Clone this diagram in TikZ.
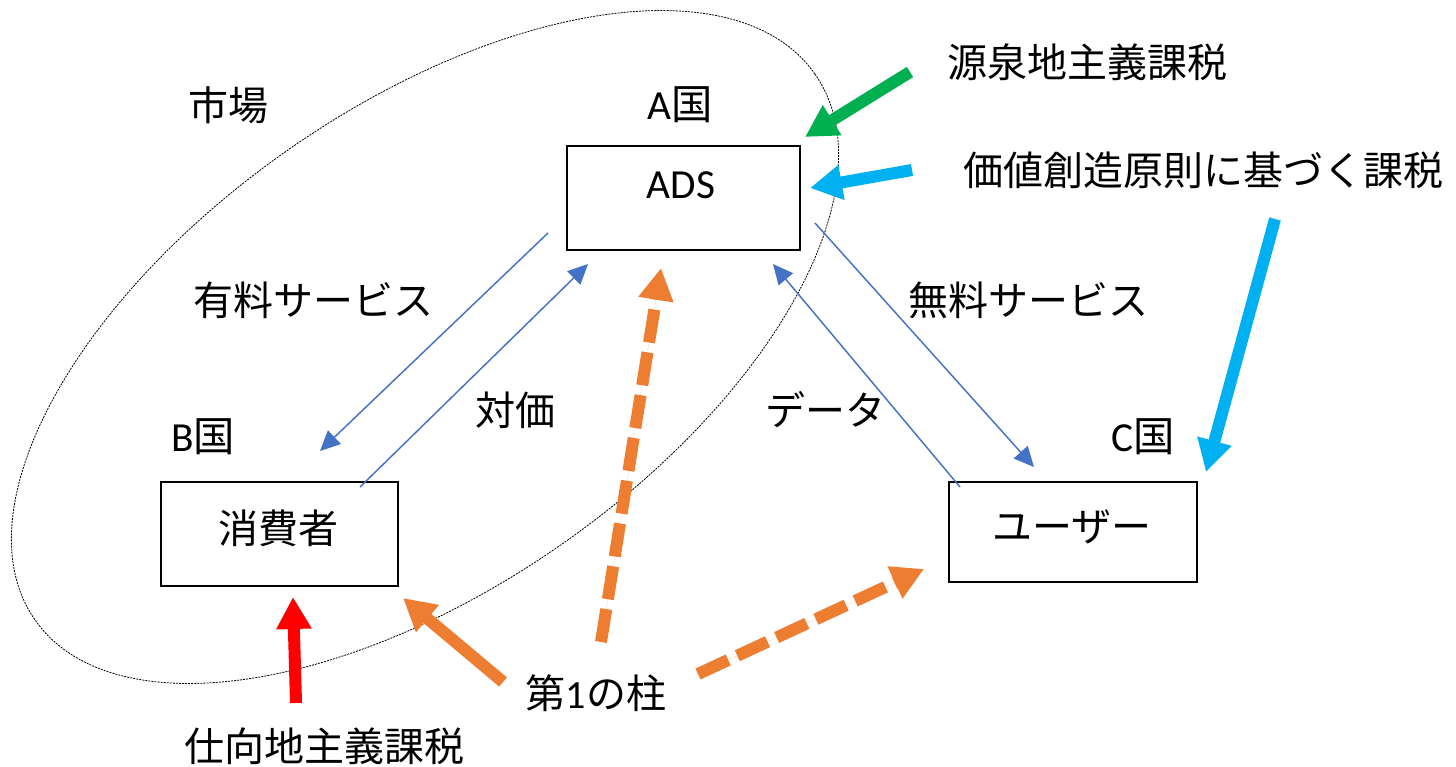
\documentclass[tikz,border=0pt]{standalone}
\usepackage{fontspec}
\setmainfont{Carlito}
\newfontfamily\jp{Noto Sans CJK JP}
\usetikzlibrary{arrows.meta}
\definecolor{blueline}{HTML}{4472C4}
\definecolor{orangeA}{HTML}{ED7D31}
\definecolor{greenA}{HTML}{00B050}
\definecolor{cyanA}{HTML}{00B0F0}
\definecolor{redA}{HTML}{FF0000}
\begin{document}
\begin{tikzpicture}[x=0.75pt,y=-0.75pt,
  box/.style={draw=black,line width=1.6pt,inner sep=0pt},
  lbl/.style={inner sep=0pt,font=\fontsize{30}{36}\selectfont\jp},
  lat/.style={inner sep=0pt,font=\fontsize{31}{36}\selectfont},
  thinarrow/.style={draw=blueline,line width=1.1pt,-{Triangle[length=15pt,width=14pt]}},
  fat/.style={line width=9pt,-{Triangle[length=24pt,width=25pt]}},
  dsh/.style={fat,dash pattern=on 25pt off 7.5pt},
  ell/.style={draw=black,line width=0.6pt,dash pattern=on 1.5pt off 0.8pt}
]
\useasboundingbox (0,0) rectangle (1456,767);

% market ellipse
\draw[ell, rotate around={35:(425,347)}] (425,347) ellipse [x radius=476, y radius=240];

% boxes
\node[box,minimum width=174.75pt,minimum height=78pt] (ads) at (683.5,198) {};
\node[box,minimum width=177.75pt,minimum height=78pt] (cons) at (279.5,534) {};
\node[box,minimum width=186pt,minimum height=75pt] (user) at (1073,532) {};

% box texts
\node[lat] (adsT) at (681,185) {ADS};
\node[lbl] (consT) at (278,528) {消費者};
\node[lbl] (userT) at (1072,527) {ユーザー};

% labels
\node[lbl] (market) at (228,105) {市場};
\node[lat] (countryA) at (680,105) {A{\jp 国}};
\node[lat] (countryB) at (203,437) {B{\jp 国}};
\node[lat] (countryC) at (1143,437) {C{\jp 国}};
\node[lbl] (paid) at (313,300) {有料サービス};
\node[lbl] (price) at (515,410) {対価};
\node[lbl] (free) at (1028,300) {無料サービス};
\node[lbl] (data) at (825,410) {データ};
\node[lbl] (source) at (1087,62) {源泉地主義課税};
\node[lbl] (value) at (1203,170) {価値創造原則に基づく課税};
\node[lbl] (pillar) at (596,693) {第{\fontspec{Carlito}1}の柱};
\node[lbl] (dest) at (324,746) {仕向地主義課税};

% connector end points
\coordinate (b1s) at (548,233); \coordinate (b1e) at (320,451);
\coordinate (b2s) at (360,487); \coordinate (b2e) at (588,264);
\coordinate (b3s) at (960,487); \coordinate (b3e) at (773,264);
\coordinate (b4s) at (815,223); \coordinate (b4e) at (1034,467);
\coordinate (gs) at (910,72);   \coordinate (ge) at (805,137);
\coordinate (c1s) at (912,170); \coordinate (c1e) at (810,188);
\coordinate (c2s) at (1275,219); \coordinate (c2e) at (1206,472);
\coordinate (rs) at (296,703);  \coordinate (re) at (293,597);
\coordinate (o1s) at (503,682); \coordinate (o1e) at (403,598);
\coordinate (o2s) at (601,642); \coordinate (o2e) at (661,268);
\coordinate (o3s) at (698,674); \coordinate (o3e) at (924,569);

% thin blue flows
\draw[thinarrow] (b1s) -- (b1e);
\draw[thinarrow] (b2s) -- (b2e);
\draw[thinarrow] (b3s) -- (b3e);
\draw[thinarrow] (b4s) -- (b4e);

% taxation arrows
\draw[fat,draw=greenA,fill=greenA] (gs) -- (ge);
\draw[fat,draw=cyanA,fill=cyanA] (c1s) -- (c1e);
\draw[fat,draw=cyanA,fill=cyanA] (c2s) -- (c2e);
\draw[fat,draw=redA,fill=redA] (rs) -- (re);

% pillar one arrows
\draw[fat,draw=orangeA,fill=orangeA] (o1s) -- (o1e);
\draw[dsh,draw=orangeA,fill=orangeA] (o2s) -- (o2e);
\draw[dsh,draw=orangeA,fill=orangeA] (o3s) -- (o3e);
\end{tikzpicture}
\end{document}
